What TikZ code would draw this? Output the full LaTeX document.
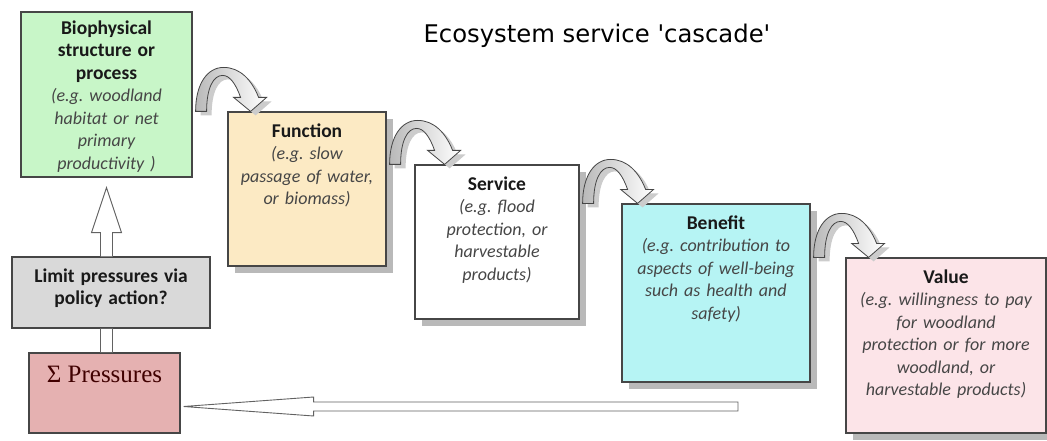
\documentclass[tikz,border=0pt]{standalone}
\usepackage{fontspec}
\setmainfont{Carlito}
\newfontfamily\titlefont{DejaVu Sans}
\newfontfamily\pressfont{Liberation Serif}
\usetikzlibrary{positioning,calc,shadows}
\frenchspacing

\definecolor{biogreen}{RGB}{200,246,200}
\definecolor{funbeige}{RGB}{252,234,196}
\definecolor{bencyan}{RGB}{182,244,244}
\definecolor{valpink}{RGB}{252,228,232}
\definecolor{limgray}{RGB}{217,217,217}
\definecolor{prerose}{RGB}{229,177,177}
\definecolor{boxline}{RGB}{70,70,70}
\definecolor{textdark}{RGB}{25,25,25}
\definecolor{textital}{RGB}{70,70,70}

\tikzset{
  box/.style={draw=boxline, line width=1.2pt, inner sep=0pt},
  shadowed/.style={copy shadow={shadow xshift=7pt, shadow yshift=-7pt, fill=gray!55, draw=none}},
  boxtext/.style={align=center, inner sep=0pt, text=textdark,
    font=\fontsize{18}{22.5}\selectfont},
  hollow/.style={draw=boxline!85, line width=0.9pt, fill=white},
  pics/cascade/.style={code={
    % shadow of the bent arrow
    \fill[gray!40, shift={(5,4)}]
      (0,0) .. controls (0,-28) and (12,-44) .. (28,-44)
      .. controls (44,-44) and (56,-32) .. (63,-14)
      -- (71,-14) -- (55,0) -- (38,-14) -- (45,-14)
      .. controls (40,-28) and (34,-36) .. (27,-36)
      .. controls (18,-36) and (11,-24) .. (11,0) -- cycle;
    % bent arrow
    \draw[boxline, line width=0.8pt, left color=gray!55, right color=white]
      (0,0) .. controls (0,-28) and (12,-44) .. (28,-44)
      .. controls (44,-44) and (56,-32) .. (63,-14)
      -- (71,-14) -- (55,0) -- (38,-14) -- (45,-14)
      .. controls (40,-28) and (34,-36) .. (27,-36)
      .. controls (18,-36) and (11,-24) .. (11,0) -- cycle;
  }}
}

\newcommand{\headline}[1]{{\fontsize{19.5}{22.5}\selectfont\bfseries #1}}
\newcommand{\egline}[1]{{\itshape\color{textital}#1}}

\begin{document}
\begin{tikzpicture}[x=1pt, y=-1pt]
  \useasboundingbox[fill=white] (0,0) rectangle (1047,441);

  % title
  \node[font=\titlefont\fontsize{24.3}{28}\selectfont] (title) at (597,36) {Ecosystem service 'cascade'};

  % cascade boxes
  \node[box, fill=biogreen, minimum width=171pt, minimum height=165pt] (bio) at (106.5,94.5) {};
  \node[box, shadowed, fill=funbeige, minimum width=158pt, minimum height=154pt] (fun) at (307,189) {};
  \node[box, shadowed, fill=white, minimum width=164pt, minimum height=154pt] (ser) at (497,242) {};
  \node[box, shadowed, fill=bencyan, minimum width=188pt, minimum height=178pt] (ben) at (716,293) {};
  \node[box, shadowed, fill=valpink, minimum width=200pt, minimum height=175pt] (val) at (946,345.5) {};

  % pressures side
  \node[box, fill=limgray, minimum width=198pt, minimum height=71pt] (lim) at (111,292.5) {};
  \node[box, fill=prerose, minimum width=151pt, minimum height=80pt] (pre) at (104.5,393) {};

  % box texts
  \node[boxtext, text width=165pt, below=9pt of bio.north] (biotxt)
    {\headline{Biophysical\\structure or\\process}\\
     \egline{(e.g. woodland\\habitat or net\\primary\\productivity )}};
  \node[boxtext, text width=152pt, below=12pt of fun.north] (funtxt)
    {\headline{Function}\\ \egline{(e.g. slow\\passage of water,\\or biomass)}};
  \node[boxtext, text width=158pt, below=12pt of ser.north] (sertxt)
    {\headline{Service}\\ \egline{(e.g. flood\\protection, or\\harvestable\\products)}};
  \node[boxtext, text width=182pt, below=12pt of ben.north] (bentxt)
    {\headline{Benefit}\\ \egline{(e.g. contribution to\\aspects of well-being\\such as health and\\safety)}};
  \node[boxtext, text width=194pt, below=12pt of val.north] (valtxt)
    {\headline{Value}\\ \egline{(e.g. willingness to pay\\for woodland\\protection or for more\\woodland, or\\harvestable products)}};
  \node[boxtext, text width=192pt, below=12pt of lim.north] (limtxt)
    {\headline{Limit pressures via\\policy action?}};
  \node[boxtext, text=black!75!red, font=\pressfont\fontsize{25}{30}\selectfont,
    below=14pt of pre.north] (pretxt) {Σ Pressures};

  % bent arrows between the boxes
  \pic at ($(bio.east |- fun.north)+(3,0)$) {cascade};
  \pic at ($(fun.east |- ser.north)+(3,0)$) {cascade};
  \pic at ($(ser.east |- ben.north)+(3,0)$) {cascade};
  \pic at ($(ben.east |- val.north)+(3,0)$) {cascade};

  % hollow arrow up to the biophysical box
  \coordinate (upbase) at (bio.south |- lim.north);
  \coordinate (uptip) at ($(bio.south)+(0,10)$);
  \draw[hollow] ($(upbase)+(-6,0)$) -- ($(uptip)+(-6,45)$) -- ($(uptip)+(-15,45)$)
    -- (uptip) -- ($(uptip)+(15,45)$) -- ($(uptip)+(6,45)$) -- ($(upbase)+(6,0)$);
  \draw[hollow] ($(lim.south -| bio.south)+(-6,0)$) rectangle ($(pre.north -| bio.south)+(6,0)$);

  % long hollow arrow back to the pressures
  \coordinate (tail) at (738,406.5);
  \coordinate (pretip) at ($(pre.east)+(3,13.5)$);
  \draw[hollow] ($(tail)+(0,-4.5)$) -- ($(pretip)+(130,-4.5)$) -- ($(pretip)+(130,-9.5)$)
    -- (pretip) -- ($(pretip)+(130,9.5)$) -- ($(pretip)+(130,4.5)$) -- ($(tail)+(0,4.5)$) -- cycle;
\end{tikzpicture}
\end{document}
